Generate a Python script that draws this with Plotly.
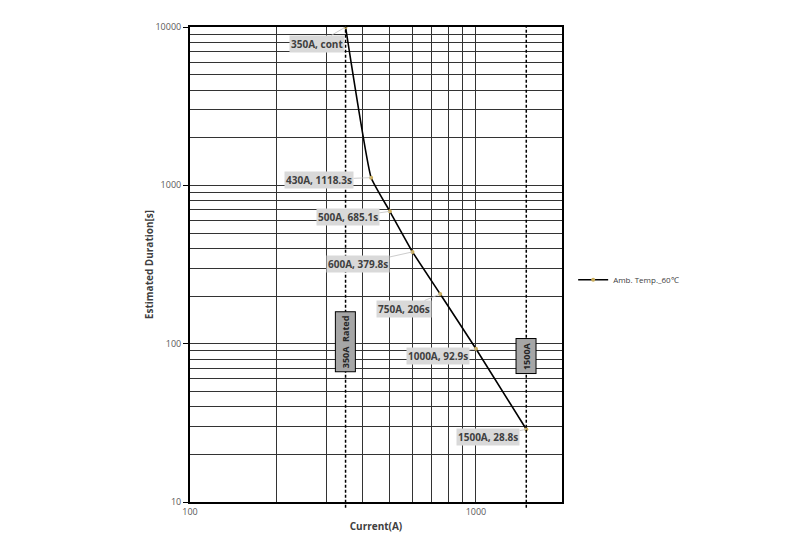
import math
import plotly.graph_objects as go

# values
currents = [350, 430, 500, 600, 750, 1000, 1500]
durations = [10000, 1118.3, 685.1, 379.8, 206, 92.9, 28.8]
point_labels = ["350A, cont", "430A, 1118.3s", "500A, 685.1s", "600A, 379.8s",
                "750A, 206s", "1000A, 92.9s", "1500A, 28.8s"]
label_offsets = [(-29, 17), (-52, 2), (-42, 6), (-54, 12), (-36, 15), (-38, 7), (-38, 8)]
series_name = "Amb. Temp._60℃"

marker_lines = [350, 1500]
marker_texts = ["350A  Rated", "1500A"]
marker_text_y = [0.3375, 0.27]

x_major = [100, 1000]
x_minor = [200, 300, 400, 500, 600, 700, 800, 900, 2000]
y_major = [10, 100, 1000, 10000]
y_minor = [m * d for d in (10, 100, 1000) for m in range(2, 10)]

grid = "#333333"
font = "Open Sans"

fig = go.Figure(go.Scatter(
    x=currents, y=durations, name=series_name,
    mode="lines+markers",
    line=dict(color="black", width=1.6, shape="spline", smoothing=0.35),
    marker=dict(color="#c9ac5a", size=4),
))

for x in marker_lines:
    fig.add_shape(type="line", xref="x", yref="paper", x0=x, x1=x, y0=-0.012, y1=1,
                  line=dict(color="black", width=1.5, dash="3px,2px"))

for x, txt, ty in zip(marker_lines, marker_texts, marker_text_y):
    fig.add_annotation(x=math.log10(x), y=ty, xref="x", yref="paper", text="<b>%s</b>" % txt,
                       textangle=-90, showarrow=False, bgcolor="#a6a6a6",
                       bordercolor="black", borderwidth=1, borderpad=3,
                       font=dict(family=font, size=9, color="#262626"))

for x, y, txt, (ax, ay) in zip(currents, durations, point_labels, label_offsets):
    fig.add_annotation(x=math.log10(x), y=math.log10(y), text="<b>%s</b>" % txt,
                       showarrow=True, arrowhead=0, arrowwidth=0.8, arrowcolor="#bfbfbf",
                       ax=ax, ay=ay, bgcolor="#d9d9d9", borderpad=1,
                       font=dict(family=font, size=10, color="#404040"))

fig.update_xaxes(
    type="log", range=[2, math.log10(2000)],
    tickmode="array", tickvals=x_major, ticktext=[str(v) for v in x_major],
    showgrid=True, gridcolor=grid, gridwidth=1,
    minor=dict(tickmode="array", tickvals=x_minor, showgrid=True, gridcolor=grid, gridwidth=1),
    showline=True, linecolor="black", linewidth=1.5, mirror=True,
    tickfont=dict(family=font, size=9, color="#595959"),
    title=dict(text="<b>Current(A)</b>", font=dict(family=font, size=10, color="#404040"), standoff=6),
    zeroline=False,
)
fig.update_yaxes(
    type="log", range=[1, 4],
    tickmode="array", tickvals=y_major, ticktext=[str(v) for v in y_major],
    ticks="outside", ticklen=5, tickcolor="black",
    showgrid=True, gridcolor=grid, gridwidth=1,
    minor=dict(tickmode="array", tickvals=y_minor, showgrid=True, gridcolor=grid, gridwidth=1),
    showline=True, linecolor="black", linewidth=2, mirror=True,
    tickfont=dict(family=font, size=9, color="#595959"),
    title=dict(text="<b>Estimated Duration[s]</b>", font=dict(family=font, size=10, color="#404040"), standoff=0),
    zeroline=False,
)

# the page adds an 8px body margin, so the margins are shifted to compensate
fig.update_layout(
    width=800, height=543,
    margin=dict(l=182, r=246, t=14, b=49),
    paper_bgcolor="white", plot_bgcolor="white",
    showlegend=True,
    legend=dict(x=1.03, y=0.468, xanchor="left", yanchor="middle",
                font=dict(family=font, size=8, color="#404040"), bgcolor="rgba(0,0,0,0)"),
)

fig.write_html("out.html")
